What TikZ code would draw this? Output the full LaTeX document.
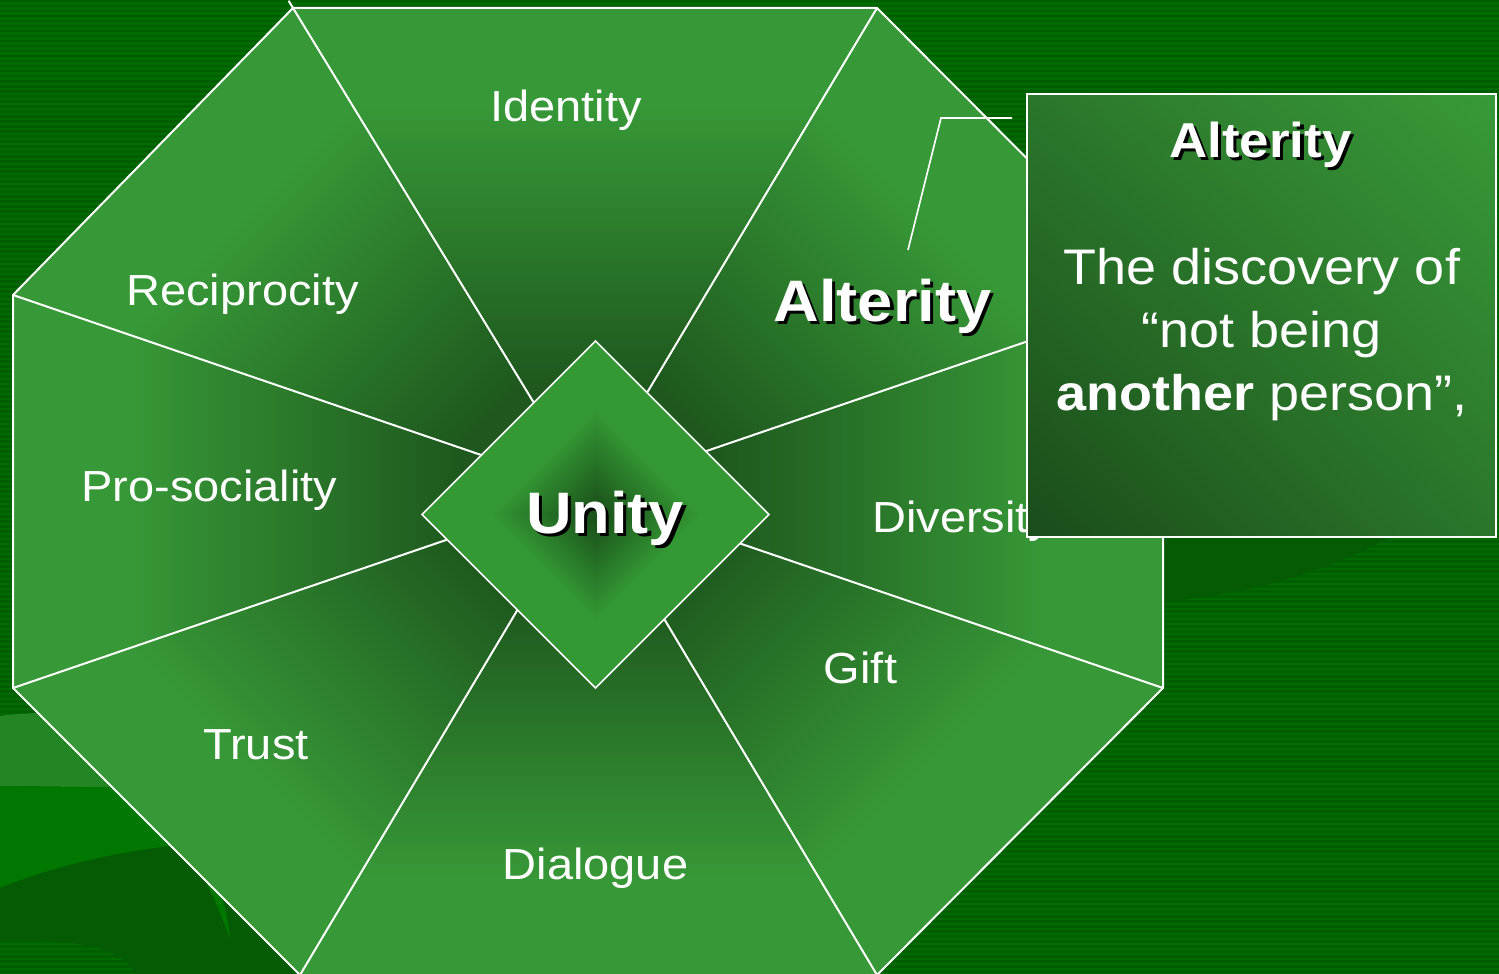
\documentclass[tikz,border=0pt]{standalone}
\usepackage{fontspec}
\setmainfont{Liberation Sans}
\usepackage{graphicx}
\usetikzlibrary{shadings,calc}
\definecolor{bgA}{HTML}{006C00}
\definecolor{bgB}{HTML}{005E00}
\definecolor{octdk}{HTML}{1E581E}
\definecolor{octmd}{HTML}{2A772A}
\definecolor{octlt}{HTML}{379837}
\definecolor{diadk}{HTML}{1C551C}
\definecolor{dialt}{HTML}{349934}
\definecolor{boxdk}{HTML}{1A4C1A}
\definecolor{boxmd}{HTML}{2B762B}
\definecolor{boxlt}{HTML}{389A38}
\definecolor{swdark}{HTML}{045B04}
\definecolor{swmid}{HTML}{007800}
\definecolor{swlight}{HTML}{238523}
% linear gradient along a wedge: apex at 37.5bp, outer edge at 62.5bp
\pgfdeclareverticalshading{wedgegrad}{100bp}{color(0bp)=(octdk); color(43bp)=(octdk); color(50bp)=(octmd); color(57.5bp)=(octlt); color(100bp)=(octlt)}
% symmetric gradient for the diamond: centre at 50bp, edges at 67.7bp
\pgfdeclareverticalshading{diagrad}{100bp}{color(0bp)=(dialt); color(39bp)=(dialt); color(48.8bp)=(diadk); color(51.2bp)=(diadk); color(61bp)=(dialt); color(100bp)=(dialt)}
\newcommand{\hstretch}[1]{\scalebox{1.08}[1]{#1}}
\newcommand{\shtext}[1]{\rlap{\kern3pt\raisebox{-3pt}{\textcolor{black}{#1}}}#1}
% wedge: vertex a, vertex b, Px, Py, D, angle
\newcommand{\wedgeshade}[6]{%
  \begin{scope}
    \clip (O) -- (#1) -- (#2) -- cycle;
    \shade[shading=wedgegrad, shading angle=#6] (#3-#5,#4-#5) rectangle (#3+#5,#4+#5);
  \end{scope}}
\tikzset{
  wlabel/.style={text=white, font=\fontsize{43.5}{52}\selectfont, anchor=base, inner sep=0pt},
  bigbold/.style={text=white, font=\bfseries\fontsize{58.5}{70}\selectfont, anchor=base, inner sep=0pt},
  titlebold/.style={text=white, font=\bfseries\fontsize{49}{60}\selectfont, anchor=base, inner sep=0pt},
  bodytxt/.style={text=white, font=\fontsize{50}{63}\selectfont, anchor=base, inner sep=0pt},
  wline/.style={draw=white, line width=2pt},
  stripe/.style={fill=bgB},
}
\begin{document}
\begin{tikzpicture}[x=1pt,y=-1pt]
\useasboundingbox (0,0) rectangle (1499,974);
% background
\fill[bgA] (0,0) rectangle (1499,974);
\foreach \yy in {0,5,...,970}{\fill[stripe] (0,\yy) rectangle (1499,\yy+2.5);}
% lower-left swooshes
\fill[swlight] (0,716) .. controls (60,708) and (200,712) .. (330,745) -- (330,790) -- (0,786) -- cycle;
\fill[swmid] (0,786) -- (330,790) -- (330,845) .. controls (250,836) and (120,840) .. (0,888) -- cycle;
\fill[swdark] (0,888) .. controls (120,840) and (250,836) .. (330,845) -- (330,974) -- (135,974) .. controls (125,945) and (60,938) .. (0,940) -- cycle;
\fill[swmid] (205,880) .. controls (215,900) and (225,925) .. (230,938) .. controls (228,915) and (222,895) .. (215,878) -- cycle;
% right swoosh
\fill[swdark] (1163,537) -- (1390,537) .. controls (1330,570) and (1260,592) .. (1163,602) -- cycle;
% octagon
\coordinate (O) at (588,491.5);
\coordinate (v1) at (293,8);
\coordinate (v2) at (877,8);
\coordinate (v3) at (1163,295);
\coordinate (v4) at (1163,688);
\coordinate (v5) at (877,975);
\coordinate (v6) at (300,975);
\coordinate (v7) at (13,688);
\coordinate (v8) at (13,295);
\wedgeshade{v1}{v2}{588}{249.75}{483.5}{0}
\wedgeshade{v2}{v3}{781}{298.5}{546}{-45}
\wedgeshade{v3}{v4}{875.5}{491.5}{575}{-90}
\wedgeshade{v4}{v5}{781}{684.5}{546}{-135}
\wedgeshade{v5}{v6}{588}{733.25}{483.5}{180}
\wedgeshade{v6}{v7}{395.2}{684.3}{545.5}{135}
\wedgeshade{v7}{v8}{300.5}{491.5}{575}{90}
\wedgeshade{v8}{v1}{394.3}{297.8}{548}{45}
\foreach \v in {v2,v3,v4,v5,v6,v7,v8}{\draw[wline] (O) -- (\v);}
\draw[wline] (O) -- ($(O)!1.015!(v1)$);
\draw[wline, line join=miter] (v1) -- (v2) -- (v3) -- (v4) -- (v5) -- (v6) -- (v7) -- (v8) -- cycle;
% diamond with a shape-following gradient
\coordinate (dc) at (595.5,514.5);
\coordinate (dt) at (595.5,341);
\coordinate (dr) at (769,514.5);
\coordinate (db) at (595.5,688);
\coordinate (dl) at (422,514.5);
\begin{scope}
  \clip (dt) -- (dr) -- (db) -- (dl) -- cycle;
  \shade[shading=diagrad, shading angle=-45] (595.5-173.5,514.5-173.5) rectangle (595.5+173.5,514.5+173.5);
\end{scope}
\begin{scope}
  \clip (dc) -- (dt) -- (dl) -- cycle (dc) -- (db) -- (dr) -- cycle;
  \shade[shading=diagrad, shading angle=45] (595.5-173.5,514.5-173.5) rectangle (595.5+173.5,514.5+173.5);
\end{scope}
\draw[draw=white, line width=1.6pt] (dt) -- (dr) -- (db) -- (dl) -- cycle;
% wedge labels
\node[wlabel] (identity) at (566,121) {\hstretch{Identity}};
\node[wlabel] (reciprocity) at (242.5,305) {\hstretch{Reciprocity}};
\node[wlabel] (prosoc) at (209.5,501) {\hstretch{Pro-sociality}};
\node[wlabel] (trust) at (256,759) {\hstretch{Trust}};
\node[wlabel] (dialogue) at (595.5,879) {\hstretch{Dialogue}};
\node[wlabel] (gift) at (860.5,683) {\hstretch{Gift}};
\node[wlabel, anchor=base west] (diversity) at (872,532) {\hstretch{Diversity}};
\node[bigbold] (alterity) at (882.5,321) {\hstretch{\shtext{Alterity}}};
\node[bigbold] (unity) at (605,533) {\hstretch{\shtext{Unity}}};
% leader line
\coordinate (lA) at (1012,118);
\coordinate (lB) at (941,118);
\coordinate (lC) at (908,250);
\draw[draw=white, line width=1.6pt] (lA) -- (lB) -- (lC);
% callout box
\coordinate (bx1) at (1027,94);
\coordinate (bx2) at (1496,537);
\shade[lower left=boxdk, upper right=boxlt, upper left=boxmd, lower right=boxmd] (bx1) rectangle (bx2);
\draw[draw=white, line width=2pt] (bx1) rectangle (bx2);
\node[titlebold] (title) at (1260.5,157) {\hstretch{\shtext{Alterity}}};
\node[bodytxt] (body1) at (1262,284) {\hstretch{The discovery of}};
\node[bodytxt] (body2) at (1262,347) {\hstretch{“not being}};
\node[bodytxt] (body3) at (1262,410) {\hstretch{\textbf{another} person”,}};
\end{tikzpicture}
\end{document}
